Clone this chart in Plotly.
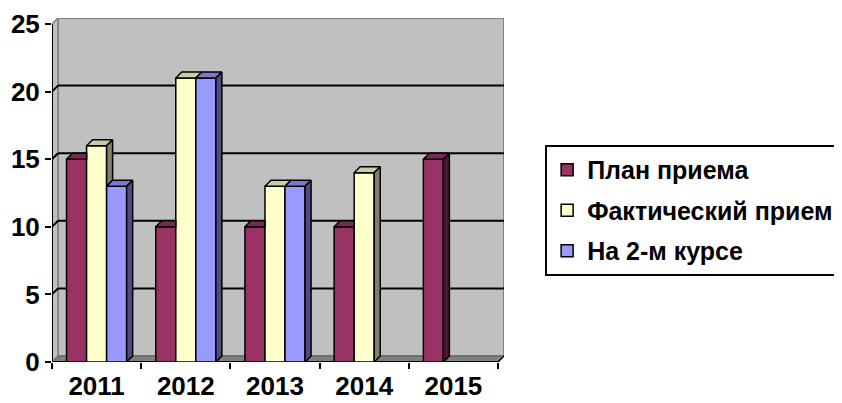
import plotly.graph_objects as go

years = ["2011", "2012", "2013", "2014", "2015"]
plan = [15, 10, 10, 10, 15]
fact = [16, 21, 13, 14, None]
second = [13, 21, 13, None, None]
series_names = ["План приема", "Фактический прием", "На 2-м курсе"]
y_ticks = [0, 5, 10, 15, 20, 25]

front_col = ["#993366", "#FFFFCC", "#9999FF"]
top_col = ["#7A2952", "#CCCC9E", "#7A7ACC"]
side_col = ["#4A1831", "#80806A", "#4D4D80"]

series = [plan, fact, second]
n_cat = len(years)
YMAX = 25
DX = 6 / 89.2      # depth offset in x units
DY = 6 / 13.52     # depth offset in y units
GROUP = 0.674
BW = GROUP / 3

fig = go.Figure()

# front faces
for k, vals in enumerate(series):
    fig.add_trace(go.Bar(
        x=list(range(n_cat)), y=vals, name=series_names[k],
        marker=dict(color=front_col[k], line=dict(color="black", width=1.5)),
        legendgroup=f"g{k}", hoverinfo="skip"))

# top and side faces (visible parts)
for k, vals in enumerate(series):
    tx, ty, sx, sy = [], [], [], []
    for c in range(n_cat):
        h = vals[c]
        if h is None:
            continue
        s = c - GROUP / 2 + k * BW
        e = s + BW
        hn = 0
        if k + 1 < len(series) and series[k + 1][c] is not None:
            hn = series[k + 1][c]
        if hn > h:
            tx += [s, e, e, s + DX, s, None]
            ty += [h, h, h + DY, h + DY, h, None]
        else:
            tx += [s, e, e + DX, s + DX, s, None]
            ty += [h, h, h + DY, h + DY, h, None]
        if h > hn:
            sx += [e, e + DX, e + DX, e, e, None]
            sy += [hn, hn + DY, h + DY, h, hn, None]
    fig.add_trace(go.Scatter(x=tx, y=ty, mode="lines", fill="toself",
                             fillcolor=top_col[k], line=dict(color="black", width=1.5),
                             showlegend=False, hoverinfo="skip"))
    if sx:
        fig.add_trace(go.Scatter(x=sx, y=sy, mode="lines", fill="toself",
                                 fillcolor=side_col[k], line=dict(color="black", width=1.5),
                                 showlegend=False, hoverinfo="skip"))

x0, x1 = -0.5, n_cat - 0.5
shapes = []
shapes.append(dict(type="rect", xref="x", yref="y", x0=x0 + DX, x1=x1 + DX, y0=DY, y1=YMAX + DY,
                   fillcolor="#C0C0C0", line=dict(color="#808080", width=2), layer="below"))
shapes.append(dict(type="path", xref="x", yref="y",
                   path=f"M{x0},0 L{x0},{YMAX} L{x0+DX},{YMAX+DY} L{x0+DX},{DY} Z",
                   fillcolor="#C0C0C0", line=dict(color="#808080", width=1.5), layer="below"))
shapes.append(dict(type="path", xref="x", yref="y",
                   path=f"M{x0},0 L{x1},0 L{x1+DX},{DY} L{x0+DX},{DY} Z",
                   fillcolor="#808080", line=dict(color="#606060", width=1), layer="below"))
for v in y_ticks[1:-1]:
    shapes.append(dict(type="line", xref="x", yref="y", x0=x0 + DX, x1=x1 + DX, y0=v + DY, y1=v + DY,
                       line=dict(color="black", width=2), layer="below"))
    shapes.append(dict(type="line", xref="x", yref="y", x0=x0, x1=x0 + DX, y0=v, y1=v + DY,
                       line=dict(color="black", width=2), layer="below"))
shapes.append(dict(type="line", xref="x", yref="y", x0=x0, x1=x0, y0=0, y1=YMAX,
                   line=dict(color="black", width=2), layer="below"))
shapes.append(dict(type="line", xref="x", yref="y", x0=x0, x1=x1, y0=0, y1=0,
                   line=dict(color="black", width=2), layer="below"))
shapes.append(dict(type="line", xref="x", yref="y", x0=x1, x1=x1 + DX, y0=0, y1=DY,
                   line=dict(color="black", width=1.5), layer="below"))

font = dict(family="Liberation Sans, Arial, sans-serif", size=26, color="black", weight="bold")
legend_font = dict(font, size=25)

# page body has an 8px default margin, so the figure is 8px smaller and margins compensate
fig.update_layout(
    width=834, height=395,
    margin=dict(l=44, r=338, t=10, b=41, autoexpand=False),
    paper_bgcolor="white", plot_bgcolor="white",
    barmode="group", bargap=1 - GROUP, bargroupgap=0,
    shapes=shapes,
    font=font,
    showlegend=True,
    legend=dict(x=1.091, y=0.631, xanchor="left", yanchor="top",
                bordercolor="black", borderwidth=2, bgcolor="white",
                font=legend_font, traceorder="grouped", tracegroupgap=5,
                itemwidth=30),
    xaxis=dict(range=[x0, x1 + DX], tickvals=list(range(n_cat)), ticktext=years,
               ticks="", showgrid=False, zeroline=False, showline=False,
               tickfont=font, fixedrange=True, ticklabelstandoff=6,
               minor=dict(tickvals=[i - 0.5 for i in range(n_cat + 1)], ticks="outside",
                          ticklen=6, tickwidth=2, tickcolor="black", showgrid=False)),
    yaxis=dict(range=[0, YMAX + DY], tickvals=y_ticks, ticks="outside", ticklen=6,
               tickwidth=2, tickcolor="black", showgrid=False, zeroline=False,
               showline=False, tickfont=font, fixedrange=True),
)

fig.write_html("out.html")
